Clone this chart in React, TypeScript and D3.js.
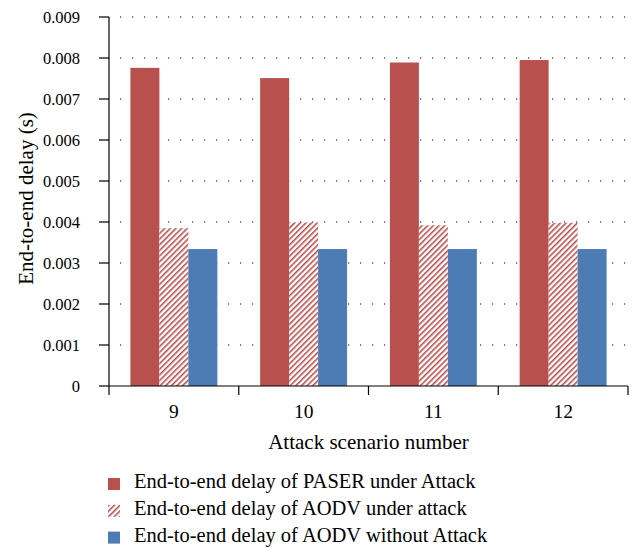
import * as d3 from 'd3';
import React from 'react';

const scenarios = ['9', '10', '11', '12'];
const paserAttack = [0.00776, 0.00751, 0.00789, 0.00795];
const aodvAttack = [0.00385, 0.00399, 0.00392, 0.00398];
const aodvNoAttack = [0.00334, 0.00334, 0.00334, 0.00334];
const yTicks = [0, 0.001, 0.002, 0.003, 0.004, 0.005, 0.006, 0.007, 0.008, 0.009];
const seriesNames = [
  'End-to-end delay of PASER under Attack',
  'End-to-end delay of AODV under attack',
  'End-to-end delay of AODV without Attack',
];

const RED = '#b8504d';
const BLUE = '#4d7bb3';
const FONT = "'Liberation Serif', 'Times New Roman', serif";

const App = () => {
  const width = 637, height = 547;
  const margin = { top: 17, right: 9, bottom: 161, left: 109 };
  const innerW = width - margin.left - margin.right;
  const innerH = height - margin.top - margin.bottom;

  const x = d3.scaleBand().domain(scenarios).range([0, innerW]).paddingInner(0.33).paddingOuter(0.165);
  const x1 = d3.scaleBand().domain(['a', 'b', 'c']).range([0, x.bandwidth()]);
  const y = d3.scaleLinear().domain([0, 0.009]).range([innerH, 0]);
  const step = innerW / scenarios.length;

  const series = [
    { key: 'a', values: paserAttack, fill: RED },
    { key: 'b', values: aodvAttack, fill: 'url(#hatch)' },
    { key: 'c', values: aodvNoAttack, fill: BLUE },
  ];

  return (
    <svg width={width} height={height} style={{ position: 'absolute', left: 0, top: 0, fontFamily: FONT }}>
      <defs>
        <pattern id="hatch" patternUnits="userSpaceOnUse" width="4" height="4" patternTransform="rotate(45)">
          <rect width="4" height="4" fill="white" />
          <rect width="1.6" height="4" fill={RED} />
        </pattern>
      </defs>
      <rect width={width} height={height} fill="white" />
      <g transform={`translate(${margin.left},${margin.top})`}>
        {yTicks.filter(t => t > 0).map(t => (
          <line key={t} x1={0} x2={innerW} y1={y(t)} y2={y(t)} stroke="#000" strokeWidth={1.2}
            strokeDasharray="1.2,10.8" strokeDashoffset={-11} />
        ))}
        {series.map(s => (
          <g key={s.key}>
            {s.values.map((v, i) => (
              <rect key={i} x={(x(scenarios[i]) as number) + (x1(s.key) as number)} y={y(v)}
                width={x1.bandwidth()} height={innerH - y(v)} fill={s.fill} />
            ))}
          </g>
        ))}
        {/* y axis */}
        <line x1={0} x2={0} y1={0} y2={innerH} stroke="#000" strokeWidth={1.2} />
        {yTicks.map(t => (
          <g key={t} transform={`translate(0,${y(t)})`}>
            <line x1={-10} x2={0} stroke="#000" strokeWidth={1.2} />
            <text x={-29} dy="0.35em" textAnchor="end" fontSize={16.5}>{t === 0 ? '0' : d3.format('.3f')(t)}</text>
          </g>
        ))}
        {/* x axis */}
        <line x1={0} x2={innerW} y1={innerH} y2={innerH} stroke="#000" strokeWidth={1.2} />
        {d3.range(scenarios.length + 1).map(i => (
          <line key={i} x1={i * step} x2={i * step} y1={innerH} y2={innerH + 9} stroke="#000" strokeWidth={1.2} />
        ))}
        {scenarios.map(s => (
          <text key={s} x={(x(s) as number) + x.bandwidth() / 2} y={innerH + 32} textAnchor="middle" fontSize={19.5}>{s}</text>
        ))}
        <text x={innerW / 2} y={innerH + 63} textAnchor="middle" fontSize={21}>Attack scenario number</text>
        <text transform={`translate(${-76},${181.5}) rotate(-90)`} textAnchor="middle" fontSize={21}>End-to-end delay (s)</text>
      </g>
      <g transform="translate(108,478)">
        {seriesNames.map((n, i) => (
          <g key={n} transform={`translate(0,${i * 26.8})`}>
            <rect width={12} height={12} fill={series[i].fill} />
            <text x={26} y={10} fontSize={20.5}>{n}</text>
          </g>
        ))}
      </g>
    </svg>
  );
};

export default App;
